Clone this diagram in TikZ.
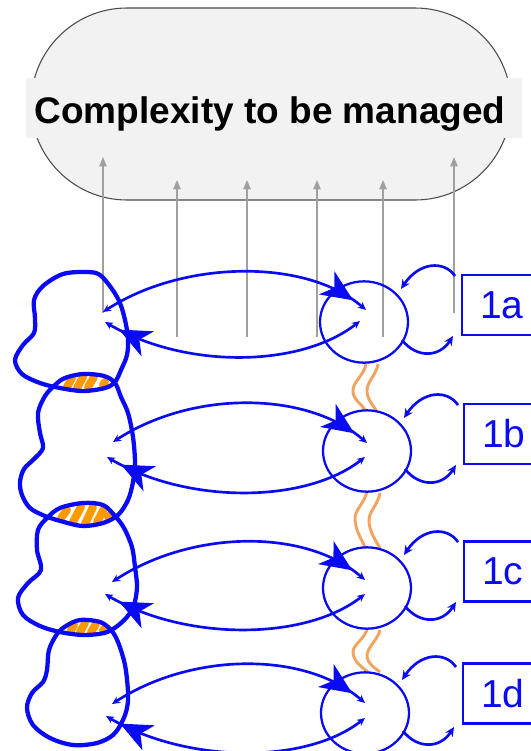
\documentclass[tikz,border=0pt]{standalone}
\usepackage{fontspec}
\setmainfont{Liberation Sans}
\usetikzlibrary{arrows.meta,shapes.geometric,calc,decorations.markings}

\definecolor{inkblue}{RGB}{10,10,245}
\definecolor{hatchorange}{RGB}{255,153,0}
\definecolor{wireorange}{RGB}{242,163,95}
\definecolor{cloudgray}{RGB}{242,242,242}
\definecolor{arrowgray}{RGB}{160,160,160}

\tikzset{
  px/.style={x=0.75pt,y=-0.75pt},
  cloud/.style={fill=cloudgray, draw=black!70, line width=0.8pt},
  band/.style={fill=cloudgray, minimum width=372pt, minimum height=45pt, inner sep=0pt},
  title/.style={font=\bfseries\fontsize{27.75}{30}\selectfont, inner sep=0pt},
  feed/.style={draw=arrowgray, line width=1.1pt, -{Triangle[length=7pt,width=5.5pt]}},
  agent/.style={ellipse, draw=inkblue, line width=1.7pt, minimum width=66pt, minimum height=61pt, inner sep=0pt},
  tag/.style={draw=inkblue, line width=1.7pt, text=inkblue, font=\fontsize{29.25}{32}\selectfont,
    anchor=west, minimum height=45pt, text width=60pt, align=left, inner xsep=13.5pt, inner ysep=0pt},
  blob/.style={draw=inkblue, line width=3.2pt, line join=round},
  link/.style={draw=inkblue, color=inkblue, line width=2pt,
    {Stealth[length=6pt,width=5.5pt]}-{Stealth[length=6pt,width=5.5pt]}},
  bigtip/.style={postaction={decorate, decoration={markings,
    mark=at position -12pt with {\arrow[inkblue]{Stealth[length=24pt,width=21pt,inset=7pt,line width=0pt]}}}}},
  selfloop/.style={draw=inkblue, line width=2pt, -{Stealth[length=7pt,width=6.5pt]}},
  stripe/.style={draw=hatchorange, line width=6pt, line cap=round},
  wire/.style={draw=wireorange, line width=2.2pt},
}

\begin{document}
\begin{tikzpicture}[px]
\useasboundingbox (0,0) rectangle (531,751);

% the shared complexity, a rounded capsule with a title band
\path[cloud] (127,8) -- (415,8) .. controls (468,8) and (511,51) .. (511,104)
  .. controls (511,157) and (468,200) .. (415,200) -- (127,200)
  .. controls (74,200) and (31,157) .. (31,104) .. controls (31,51) and (74,8) .. cycle;
\node[band] (band) at (274,108) {};
\node[title, anchor=base] (title) at (270,123) {Complexity to be managed};

% upward contributions
\foreach \n/\xx/\ylo/\yhi in {1/103/313/157, 2/177/337/180, 3/247/337/180, 4/317/337/180, 5/383/337/180, 6/454/313/157} {
  \coordinate (src\n) at (\xx,\ylo);
  \coordinate (dst\n) at (\xx,\yhi);
  \draw[feed] (src\n) -- (dst\n);
}

% orange wires joining the agents
\draw[wire] (366,364) .. controls (364,376) and (352,382) .. (353,392) .. controls (354,401) and (362,404) .. (365,410);
\draw[wire] (378,364) .. controls (376,376) and (366,382) .. (367,392) .. controls (368,401) and (374,406) .. (377,412);
\draw[wire] (367,491) .. controls (365,503) and (354,510) .. (355,520) .. controls (356,532) and (362,540) .. (365,547);
\draw[wire] (380,493) .. controls (378,505) and (368,512) .. (369,522) .. controls (370,533) and (376,541) .. (380,548);
\draw[wire] (367,629) .. controls (365,639) and (352,645) .. (353,653) .. controls (354,662) and (362,667) .. (368,672);
\draw[wire] (380,630) .. controls (378,640) and (366,648) .. (367,657) .. controls (368,664) and (375,668) .. (380,672);

% hatched overlaps between neighbouring domains
\draw[stripe] (67,387) -- (72,378);
\draw[stripe] (77,388) -- (83,377);
\draw[stripe] (88,387) -- (94,377);
\draw[stripe] (103,385) -- (105,382);
\draw[stripe] (61,518) -- (67,510);
\draw[stripe] (73,522) -- (81,507);
\draw[stripe] (85,524) -- (93,507);
\draw[stripe] (97,522) -- (104,509);
\draw[stripe] (108,517) -- (110,515);
\draw[stripe] (71,630) -- (74,625);
\draw[stripe] (80,632) -- (85,623);
\draw[stripe] (91,632) -- (96,624);
\draw[stripe] (103,630) -- (105,628);

% hand-drawn domains
\draw[blob] plot[smooth cycle, tension=0.55] coordinates {
  (87,272) (100,275) (112,289) (120,303) (125,320) (128,338) (127,355) (121,370)
  (115,382) (105,388) (83,391) (60,388) (40,383) (22,374) (15,360) (23,345)
  (34,333) (35,318) (34,300) (43,286) (63,274)};
\draw[blob] plot[smooth cycle, tension=0.55] coordinates {
  (55,385) (65,378) (83,374) (104,376) (115,383) (121,397) (128,413) (133,437)
  (135,463) (133,482) (128,500) (118,515) (103,523) (83,526) (64,522) (45,516)
  (30,508) (22,495) (20,482) (24,469) (34,459) (43,448) (40,433) (38,413) (45,396)};
\draw[blob] plot[smooth cycle, tension=0.55] coordinates {
  (47,518) (60,508) (83,503) (103,505) (115,516) (124,528) (132,547) (135,567)
  (137,587) (134,605) (127,617) (116,627) (104,633) (83,635) (60,632) (40,626)
  (23,615) (18,598) (28,583) (41,570) (37,550) (38,530)};
\draw[blob] plot[smooth cycle, tension=0.55] coordinates {
  (57,634) (66,626) (80,620) (100,622) (111,630) (118,642) (125,665) (128,692)
  (127,708) (122,722) (113,735) (97,743) (73,745) (50,738) (33,725) (27,708)
  (32,693) (43,682) (47,670) (49,650)};

% agents and their tags
\node[agent] (ca) at (364,322) {};
\node[agent] (cb) at (367,451) {};
\node[agent] (cc) at (367,588) {};
\node[agent] (cd) at (365,713) {};
\node[tag] (ta) at (461,305) {1a};
\node[tag] (tb) at (463,434) {1b};
\node[tag] (tc) at (463,571.5) {1c};
\node[tag] (td) at (462,693.5) {1d};

% end points of the exchanges
\coordinate (da-up) at (103,312);  \coordinate (da-lo) at (105,322);
\coordinate (db-up) at (113,442);  \coordinate (db-lo) at (107,457);
\coordinate (dc-up) at (112,582);  \coordinate (dc-lo) at (105,594);
\coordinate (dd-up) at (112,704);  \coordinate (dd-lo) at (106,716);
\coordinate (ca-up) at ($(ca)+(2,-12)$);  \coordinate (ca-lo) at ($(ca)+(-4,-1)$);
\coordinate (cb-up) at ($(cb)+(0,-8)$);   \coordinate (cb-lo) at ($(cb)+(-2,6)$);
\coordinate (cc-up) at ($(cc)+(-2,-8)$);  \coordinate (cc-lo) at ($(cc)+(-2,6)$);
\coordinate (cd-up) at ($(cd)+(0,-10)$);  \coordinate (cd-lo) at ($(cd)+(0,5)$);

\foreach \r in {a,b,c,d} {
  % domain -> agent over the top, agent -> domain underneath
  \draw[link,bigtip] (d\r-up) .. controls +(80,-52) and +(-60,-52) .. (c\r-up);
  \draw[link,bigtip] (c\r-lo) .. controls +(-60,47) and +(80,47) .. (d\r-lo);
  % feedback loops between agent and tag
  \draw[selfloop] ($(c\r)+(91,-46)$) .. controls +(-11,-16) and +(18,-27) .. ($(c\r)+(37,-33)$);
  \draw[selfloop] ($(c\r)+(38,18)$) .. controls +(14,18) and +(-14,22) .. ($(c\r)+(89,14)$);
}
\end{tikzpicture}
\end{document}
